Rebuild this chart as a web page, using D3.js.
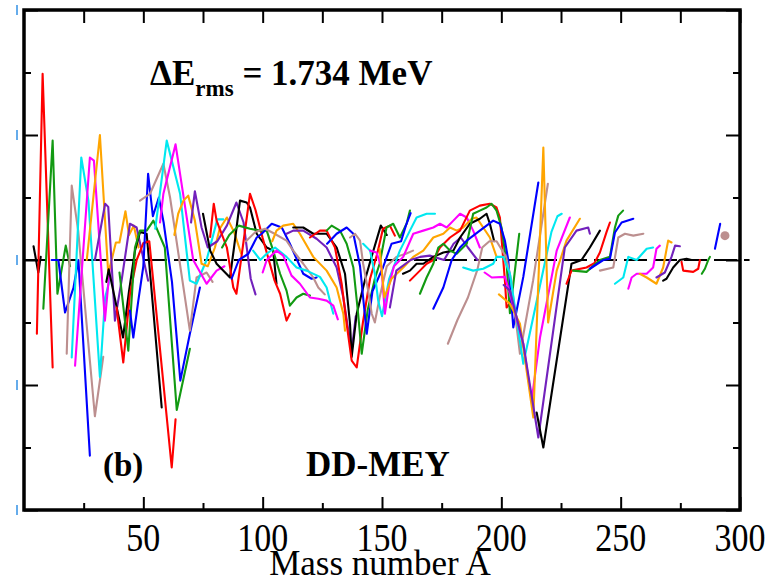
<!DOCTYPE html>
<html><head><meta charset="utf-8">
<script src="https://cdn.jsdelivr.net/npm/d3@7"></script>
<style>body{margin:0;background:#fff} svg{display:block}</style>
</head><body>
<svg id="chart" width="781" height="582"></svg>
<script>
// ---- data: binding-energy residuals (MeV) of even-Z isotopic chains, Z = 2 ... 118 ----
const xMajorTicks = [50, 100, 150, 200, 250, 300];
const xMinorTicks = [25, 75, 125, 175, 225, 275];
const yMajorTicks = [-4, -2, 0, 2, 4];
const yMinorTicks = [-3, -1, 1, 3];
const rmsLabel = "1.734 MeV";
const modelName = "DD-MEY";
const panelTag = "(b)";
const xTitle = "Mass number A";

// Z = 2 ... 36
const lightChains = [
  [[4,0.22],[6,-0.2],[7,0.05]],
  [[5.4,-1.18],[7.8,2.98],[12,-1.72]],
  [[8.1,-0.78],[12,1.91],[14,-0.54],[17.5,0.23],[19.3,-0.1]],
  [[11.6,0],[14.4,0],[17.2,-0.84],[20.7,-0.45],[22.8,0],[27.6,-3.13]],
  [[17.9,-1.5],[20,1.19],[22.7,0.47],[29.7,-2.5],[33.2,-1.55]],
  [[20,-1.56],[24,1.64],[27,0.95],[31.8,-1.87],[34,-0.6],[36,-0.3]],
  [[21.4,-1.69],[27.6,1.64],[29.3,1.59],[33.9,-0.97],[36,-0.1]],
  [[26.3,0],[31.8,2.0],[35.3,-0.22],[38.5,0.28],[40,0.28],[42.5,0.78],[44,0.4],[46,0.55],[48,0.2]],
  [[29.7,0],[34,0.9],[35.3,0.85],[38.1,-0.97],[41,-0.3],[44.4,0.58],[47.2,0.52],[52,-0.33]],
  [[34.5,-0.35],[35.5,-0.15],[41.5,-1.24],[44,-0.5],[46.5,0.15],[48.6,0.45],[51.4,0.42],[57.7,-2.36]],
  [[38.8,-0.76],[41.6,-1.64],[44.4,-0.54],[47.2,0],[50,0.27],[52.5,0.3],[61.9,-3.32],[63.5,-2.55]],
  [[40,-0.2],[43.7,-1.45],[46.5,0.2],[48.6,0.47],[51.4,0.47],[54.2,0.63],[59,0.2],[64,-2.4],[69.5,-1.42]],
  [[44.4,-0.81],[45.8,-1.24],[47.9,-0.65],[50,-0.1],[52,1.38],[54,0.7],[56.5,1.0],[58.5,0.6],[62,-0.35],[65.5,-1.93],[69.5,-1.18],[73.7,-0.44]],
  [[48.6,0.95],[52.8,1.06],[58.4,1.54],[61.2,1.0],[69.5,-1.13],[72.3,-0.28],[76.5,-0.2],[79,-0.35]],
  [[55,0.5],[59.8,1.91],[65.4,1.06],[69.5,-0.33],[72.3,-0.38],[76.5,0],[81,0.65],[83.5,0.65]],
  [[57,0.6],[58.4,1.06],[63.5,1.85],[70.9,0],[76.5,-0.38],[80.7,-0.17],[84,-0.1]],
  [[63,0.4],[64.6,0.74],[66.8,0.95],[68.8,1.03],[71.6,0.63],[74.4,-0.06],[77,-0.1],[80,0.2],[82,0.5],[85,0.68],[88,0.45],[91,0.1]],
  [[70,0.6],[71.6,1.1],[74.4,0.52],[77,0.2],[81,0.3],[85,0.55],[89,0.92],[92,0.6],[95,-0.3],[97,-0.55]]
];
// Z = 38 ... 72
const mediumChains = [
  [[75,0.74],[78,0.15],[80.7,-0.06],[86.3,-0.28],[88,0.2],[90.5,0.95],[93.3,0.92],[94.7,0.84],[97.5,0.42],[101.7,0.2],[104.4,0.15],[105.8,-0.38]],
  [[78,0.37],[79.5,0.9],[80.7,0.63],[85,0.2],[87.7,-0.44],[89,-0.54],[92,0.3],[94.7,1.06],[97,0.8],[100,0.35],[105,-0.33],[107.3,-0.54],[110,-0.97],[111.4,-0.86]],
  [[83,0.2],[86,0.4],[90,0.55],[94.7,0.5],[98.9,0.47],[101.7,0.47],[104.4,0.15],[107.3,-0.22],[110,-0.49],[111.4,-0.73],[114.2,-0.6],[117,-0.54],[119.8,-0.57]],
  [[87,-0.3],[90,0],[94,0.1],[97.5,0.36],[99.6,0.42],[103.8,0.58],[108,0.52],[111.4,0.26],[117,-0.22],[120.5,-0.3],[122.6,-0.28]],
  [[93,0.3],[97,0.45],[101,0.5],[105,0.42],[110,0.31],[112.8,0.15],[117,-0.06],[121.2,-0.28],[123.3,-0.44],[126,-0.55]],
  [[96,0.15],[99,0],[101.7,0.1],[105.2,0.2],[110,0.05],[114.2,-0.12],[118.4,-0.17],[124,-0.27],[126.8,-0.44],[128.9,-0.76],[129.6,-0.86]],
  [[100,-0.2],[101.7,0],[105.8,0.15],[108.6,0.07],[112.1,-0.25],[115.6,-0.38],[119.8,-0.6],[123.3,-0.62],[126.8,-0.65],[129.6,-0.73],[131.5,-0.95]],
  [[104,0.3],[105.8,0.47],[108.6,0.55],[112.8,0.58],[115.6,0.42],[121.2,0.05],[126.8,-0.17],[131,-0.44],[133.8,-0.86],[134.5,-1.13]],
  [[110,0.42],[112.8,0.47],[117,0.47],[122.6,0.34],[126.8,0.2],[131,-0.12],[133.8,-0.6],[135.9,-1.13],[137.3,-1.45],[139,-0.9]],
  [[112.8,0.52],[117,0.52],[121.2,0.42],[126.8,0.42],[131,0.2],[134.5,-0.22],[136.6,-1.02],[137.3,-1.55],[139.4,-0.86],[143,-0.3],[146,0.1],[149.5,0.55],[152,0.4]],
  [[119.8,0.36],[124,0.47],[126.8,0.47],[130.3,0.2],[133.1,-0.38],[135.2,-1.02],[137.3,-1.61],[139.4,-1.72],[142,-1.0],[145,-0.3],[148,0.1],[150.4,0.5],[153.3,0.55],[155.4,0.39]],
  [[126.8,0.47],[128.9,0.55],[132.4,0.47],[135.2,0.26],[138,-0.12],[140,-0.86],[141.5,-1.5],[144,-0.8],[147,-0.3],[149,-0.06],[151.9,0.52],[154.7,0.58],[157.5,0.36],[160.3,0.58],[161.7,0.79]],
  [[127,0.26],[131,0.42],[135.2,0.52],[138,0.42],[140.8,-0.1],[143.6,-1.18],[146,-0.5],[150.4,-0.12],[154,0.26],[158,0.3],[160,0.55],[162,0.75]],
  [[136.6,0.36],[138.7,0.42],[140.8,0.31],[142.1,-0.06],[144.2,-0.49],[145.7,-0.86],[147,-1.0],[149,-0.6],[152,-0.1],[156,0.05],[160,0.1],[163,0.15]],
  [[142.1,0.26],[145,0.15],[147,-0.22],[148.4,-0.65],[150,-0.9],[153,-0.3],[157.5,0.15],[161.7,0.47],[164.5,0.68],[168.7,0.74],[172.2,0.74]],
  [[145,0.15],[147.7,0.12],[149.8,-0.12],[150.5,-0.49],[151.2,-0.86],[153,-0.4],[155,-0.1],[158.9,0.05],[163.1,0.42],[167.3,0.47],[171.5,0.52],[174.3,0.58],[177.1,0.52],[179.9,0.63],[182.7,0.74],[185.5,0.68],[188.2,0.47],[191,0.2]],
  [[149,0.18],[151,-0.6],[152,-0.5],[154,-0.3],[158.9,-0.12],[163.1,0.05],[167.3,0.15],[171.5,0.36],[175.7,0.42],[178.5,0.52],[181.3,0.47],[184,0.52],[187.6,0.66],[189.6,0.68],[192.4,0.52],[195.2,0.36],[198,0.05]],
  [[153.3,-0.76],[156,-0.17],[162,0],[166,0.05],[170,0.07],[176,0],[180,0.26],[183,0.36],[186,0.2],[190,0]]
];
// Z = 74 ... 118
const heavyChains = [
  [[158.8,-0.22],[161.7,-0.17],[164.5,-0.06],[167.3,-0.06],[171.5,0.05],[175.7,0.12],[179.9,0.15],[182.7,0.36],[186.8,0.58],[191,0.66],[193.8,0.74],[195.2,0.58],[197,0.3]],
  [[161.7,-0.33],[165.9,-0.17],[168.7,-0.06],[171.5,0],[174.3,0.2],[178.5,0.36],[182.7,0.47],[186.8,0.79],[191,0.87],[195.2,0.9],[198,0.84],[199.4,0.68],[201.5,-0.33],[202.2,-0.76],[203.5,-0.7]],
  [[165.9,-0.54],[168.7,-0.28],[171.5,-0.06],[173.6,0.2],[175.7,0.26],[178.5,0.15],[181.3,0.1],[185.5,0.26],[188.2,0.74],[191,0.79],[193.8,0.84],[195.9,0.9],[198,0.79],[200.1,0.52],[202.2,-0.06],[203.6,-0.85],[207.5,0.42]],
  [[171.5,-0.78],[175.7,-0.44],[179.2,0],[182.7,0.2],[185.5,0.31],[191,0.47],[196.6,0.63],[199.4,0.58],[201.5,0.31],[202.9,0],[205,-1.08],[209.2,-0.27],[215.5,1.24]],
  [[177.6,-1.34],[181.6,-0.96],[186,-0.6],[190,-0.15],[192,0.2],[195,0.3],[198,0.3],[202,0.05],[204,-0.3],[207.8,-1.5],[213.3,-0.33],[219.5,1.22]],
  [[184,-0.12],[188.2,-0.17],[192.4,-0.14],[196.6,-0.06],[198,0.05],[200.8,0.05],[203.6,-0.22],[209.2,-1.66],[221,0.45],[223.5,0.7],[225.3,0.74]],
  [[193,-0.2],[196,-0.28],[201.5,-0.27],[203.6,-0.54],[209.2,-1.34],[212.7,-2.25],[216.2,-1.24],[223.2,0.15],[228.7,0.68]],
  [[199,-0.55],[203.6,-0.7],[207.8,-1.02],[213.4,-2.52],[217.6,1.8],[219.6,-1.0],[223.2,-0.17],[227.3,0.31],[232.9,0.66]],
  [[201,-0.4],[203.6,-0.49],[209.2,-1.34],[215.5,-2.84],[226.6,0.2],[231.5,0.47],[236.4,0.52],[237.1,0.42]],
  [[214.8,-2.44],[217.6,-3.0],[229.4,-0.06],[233.6,0],[237.1,0.2],[241.3,0.47]],
  [[227.3,-0.38],[229.4,-0.17],[235.7,-0.12],[239,-0.05],[241.3,0.12],[244.1,0.45],[245.5,0.6]],
  [[230.1,-0.17],[235.7,-0.19],[241.3,0],[245.5,0.05],[247.6,0.52],[249,0.71],[251,0.79]],
  [[237.1,-0.14],[242.7,0],[245.5,0.02],[247.6,0.44],[250.4,0.6],[255.3,0.66]],
  [[241.3,-0.17],[246.9,-0.12],[249,0.36],[251.8,0.42],[255.3,0.39],[259.5,0.42]],
  [[247.6,-0.38],[251.1,-0.28],[253.2,0.05],[256.7,0],[260.9,0.18],[263.6,0.2]],
  [[253.2,-0.46],[254.6,-0.28],[256.7,-0.22],[260.9,-0.22],[263.6,-0.12],[265,0.18],[266.4,0.23]],
  [[258,-0.22],[260.9,-0.28],[265,-0.38],[267.8,-0.12],[269.9,0.31],[271.3,0.28]],
  [[265,-0.28],[268.5,-0.2],[271.3,0.05],[272.8,0.23],[274.8,0.22]],
  [[267.8,-0.33],[269.2,-0.3],[272,-0.12],[274.8,0],[277.6,0.02],[279.7,0]],
  [[275.5,-0.03],[276.2,-0.17],[280.4,-0.19],[282.5,-0.14],[283.2,0]],
  [[284,-0.22],[285.3,-0.14],[286.7,0],[287.4,0.05]],
  [[289.5,0.18],[291.7,0.58]],
  [[293.7,0.39]]
];
const chains = lightChains.concat(mediumChains, heavyChains);
const protonNumbers = chains.map((c, i) => 2 + 2 * i);

// ---- drawing ----
const palette = ["#000000", "#ff0000", "#129a12", "#0000ff", "#bc8f8f", "#00e8f0", "#ff00ff", "#ffa500", "#7221bc"];
const color = z => palette[((z - 2) / 2) % palette.length];

const svg = d3.select("#chart");
const W = 781, H = 582;
const x = d3.scaleLinear().domain([0, 300]).range([24, 740]);
const y = d3.scaleLinear().domain([-4, 4]).range([510, 10]);
const serif = "'Liberation Serif','Times New Roman',Times,serif";

svg.append("rect").attr("width", W).attr("height", H).attr("fill", "#fff");

// zero reference line
svg.append("line")
  .attr("x1", x(0)).attr("x2", x(304)).attr("y1", y(0)).attr("y2", y(0))
  .attr("stroke", "#000").attr("stroke-width", 2).attr("stroke-dasharray", "23,7");

// chains
const line = d3.line().x(d => x(d[0])).y(d => y(d[1]));
const g = svg.append("g");
chains.forEach((c, i) => {
  const z = protonNumbers[i];
  if (c.length > 1) {
    g.append("path").datum(c).attr("d", line)
      .attr("fill", "none").attr("stroke", color(z))
      .attr("stroke-width", 2.1).attr("stroke-linejoin", "round").attr("stroke-linecap", "round");
  } else {
    g.append("circle").attr("cx", x(c[0][0])).attr("cy", y(c[0][1])).attr("r", 4.5).attr("fill", color(z));
  }
});

// axes (ticks only; labels drawn separately)
function styleAxis(sel) {
  sel.select(".domain").remove();
  sel.selectAll(".tick line").attr("stroke", "#000").attr("stroke-width", 2);
}
svg.append("g").attr("transform", `translate(0,${y(-4)})`)
  .call(d3.axisBottom(x).tickValues(xMajorTicks).tickSize(-13).tickFormat(""))
  .call(styleAxis);
svg.append("g").attr("transform", `translate(0,${y(-4)})`)
  .call(d3.axisBottom(x).tickValues(xMinorTicks).tickSize(-7).tickFormat(""))
  .call(styleAxis);
svg.append("g").attr("transform", `translate(0,${y(4)})`)
  .call(d3.axisTop(x).tickValues(xMajorTicks.concat(xMinorTicks)).tickSize(-13).tickFormat(""))
  .call(styleAxis);
svg.append("g").attr("transform", `translate(${x(0)},0)`)
  .call(d3.axisLeft(y).tickValues(yMajorTicks).tickSize(-14).tickFormat(""))
  .call(styleAxis);
svg.append("g").attr("transform", `translate(${x(0)},0)`)
  .call(d3.axisLeft(y).tickValues(yMinorTicks).tickSize(-7).tickFormat(""))
  .call(styleAxis);
svg.append("g").attr("transform", `translate(${x(300)},0)`)
  .call(d3.axisRight(y).tickValues(yMajorTicks).tickSize(-14).tickFormat(""))
  .call(styleAxis);
svg.append("g").attr("transform", `translate(${x(300)},0)`)
  .call(d3.axisRight(y).tickValues(yMinorTicks).tickSize(-7).tickFormat(""))
  .call(styleAxis);

// x tick labels (slightly tall, as in the reference)
svg.append("g").selectAll("text").data(xMajorTicks).join("text")
  .attr("transform", d => `translate(${x(d)},551) scale(1,1.15)`)
  .attr("text-anchor", "middle").attr("font-family", serif).attr("font-size", 34)
  .text(d => d3.format("d")(d));

// remnants of the cropped y labels
svg.append("g").selectAll("rect").data(yMajorTicks).join("rect")
  .attr("x", 16).attr("y", d => y(d) - 5).attr("width", 2).attr("height", 10)
  .attr("fill", "#4a9ee8").attr("opacity", 0.85);

// frame
svg.append("rect").attr("x", x(0)).attr("y", y(4)).attr("width", x(300) - x(0)).attr("height", y(-4) - y(4))
  .attr("fill", "none").attr("stroke", "#000").attr("stroke-width", 3.5);

// labels
svg.append("text").attr("x", 380).attr("y", 575).attr("text-anchor", "middle")
  .attr("font-family", serif).attr("font-size", 35).text(xTitle);

const t = svg.append("text").attr("x", 150).attr("y", 85)
  .attr("font-family", serif).attr("font-weight", "bold").attr("font-size", 35);
t.append("tspan").text("\u0394E");
t.append("tspan").attr("font-size", 23).attr("dy", 11).text("rms");
t.append("tspan").attr("dy", -11).text(" = " + rmsLabel);

svg.append("text").attr("x", 103).attr("y", 476)
  .attr("font-family", serif).attr("font-weight", "bold").attr("font-size", 33).text(panelTag);
svg.append("text").attr("x", 306).attr("y", 476)
  .attr("font-family", serif).attr("font-weight", "bold").attr("font-size", 35).text(modelName);
</script>
</body></html>
